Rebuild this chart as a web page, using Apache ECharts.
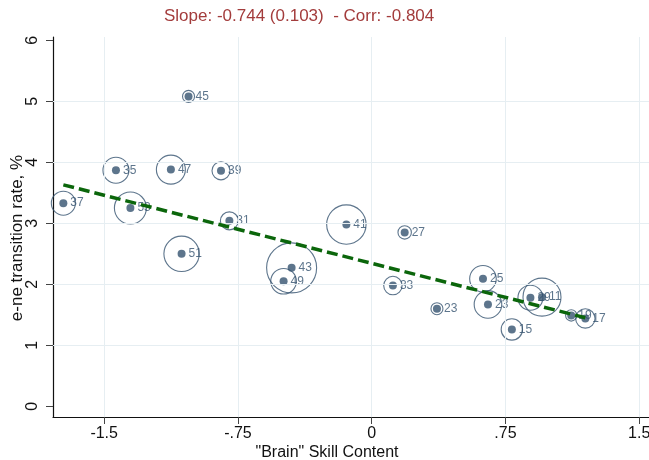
<!DOCTYPE html>
<html>
<head>
<meta charset="utf-8">
<title>e-ne transition rate vs brain skill content</title>
<script src="https://cdn.jsdelivr.net/npm/echarts@6/dist/echarts.min.js"></script>
<style>
  html, body { margin: 0; padding: 0; background: #ffffff; }
  #chart { width: 649px; height: 460px; }
</style>
</head>
<body>
<div id="chart"></div>
<script>
// Occupation codes, brain skill content (x), e-ne transition rate in % (y)
// and the employment weight that sets each bubble's area.
const occupations = ['37', '35', '47', '39', '53', '31', '51', '45', '41', '27', '43',
                     '49', '33', '23', '25', '23', '15', '29', '11', '19', '17'];
const skillContent = [-1.729, -1.434, -1.126, -0.845, -1.353, -0.798, -1.066, -1.027, -0.142, 0.185, -0.449,
                      -0.494, 0.119, 0.366, 0.624, 0.652, 0.786, 0.890, 0.955, 1.119, 1.198];
const transitionRate = [3.33, 3.87, 3.88, 3.86, 3.25, 3.04, 2.50, 5.08, 2.98, 2.85, 2.27,
                        2.05, 1.98, 1.60, 2.09, 1.67, 1.26, 1.78, 1.79, 1.49, 1.44];
const weights = [144, 169, 210, 81, 256, 81, 313, 36, 388, 45, 625,
                 164, 85, 36, 177, 190, 114, 156, 361, 32, 94];

// Weighted linear fit reported in the header
const fitSlope = -0.744;
const fitSlopeSE = 0.103;
const fitIntercept = 2.344;
const correlation = -0.804;

// Axis ticks and their printed labels
const xTicks = [-1.5, -0.75, 0, 0.75, 1.5];
const xTickLabels = ['-1.5', '-.75', '0', '.75', '1.5'];
const yTicks = [0, 1, 2, 3, 4, 5, 6];
const yGridLines = [1, 2, 3, 4, 5];

const navy = '#34536f';
const font = '"Liberation Sans", Arial, Helvetica, sans-serif';

const points = skillContent.map((x, i) => ({ name: occupations[i], value: [x, transitionRate[i], weights[i]] }));
const xLo = Math.min(...skillContent);
const xHi = Math.max(...skillContent);
const fitLine = [[xLo, fitIntercept + fitSlope * xLo], [xHi, fitIntercept + fitSlope * xHi]];

const chart = echarts.init(document.getElementById('chart'), null, { renderer: 'canvas' });
chart.setOption({
  animation: false,
  backgroundColor: '#ffffff',
  textStyle: { fontFamily: font },
  graphic: [{
    type: 'text',
    left: 164,
    top: 8,
    style: {
      text: 'Slope: ' + fitSlope.toFixed(3) + ' (' + fitSlopeSE.toFixed(3) + ')  - Corr: ' + correlation.toFixed(3),
      fill: '#a33c3c',
      font: '17px ' + font
    }
  }],
  grid: { left: 53, right: 0, top: 37, bottom: 43, containLabel: false, outerBoundsMode: 'none' },
  xAxis: {
    type: 'value',
    min: -1.787,
    max: 1.555,
    name: '"Brain" Skill Content',
    nameLocation: 'middle',
    nameGap: 28,
    nameMoveOverlap: false,
    nameTextStyle: { color: '#111', fontSize: 16, fontFamily: font, padding: [0, 48, 0, 0] },
    axisLine: { show: true, onZero: false, lineStyle: { color: '#111', width: 1.2 } },
    axisTick: { show: true, length: 7, customValues: xTicks, lineStyle: { color: '#444' } },
    axisLabel: {
      show: true, margin: 9, customValues: xTicks, color: '#111', fontSize: 16, fontFamily: font,
      formatter: v => { const k = xTicks.findIndex(t => Math.abs(t - v) < 1e-6); return k >= 0 ? xTickLabels[k] : ''; }
    },
    splitLine: { show: false }
  },
  yAxis: {
    type: 'value',
    min: -0.175,
    max: 6.054,
    name: 'e-ne transition rate, %',
    nameLocation: 'middle',
    nameGap: 27,
    nameRotate: 90,
    nameMoveOverlap: false,
    nameTextStyle: { color: '#111', fontSize: 17, fontFamily: font, padding: [0, 22, 0, 0] },
    axisLine: { show: true, onZero: false, lineStyle: { color: '#111', width: 1.2 } },
    axisTick: { show: true, length: 7, customValues: yTicks, lineStyle: { color: '#444' } },
    axisLabel: { show: true, margin: 12, rotate: 90, customValues: yTicks, color: '#111', fontSize: 16, fontFamily: font },
    splitLine: { show: false }
  },
  series: [
    {
      // light reference grid
      type: 'line',
      data: [],
      silent: true,
      markLine: {
        silent: true,
        symbol: ['none', 'none'],
        label: { show: false },
        lineStyle: { color: '#e6eef2', width: 1, type: 'solid' },
        data: xTicks.map(v => ({ xAxis: v })).concat(yGridLines.map(v => ({ yAxis: v })))
      }
    },
    {
      // weight bubbles
      type: 'scatter',
      silent: true,
      data: points,
      symbol: 'circle',
      symbolSize: d => 2 * Math.sqrt(d[2]),
      itemStyle: { color: 'rgba(0,0,0,0)', borderColor: navy, borderWidth: 1.1 },
      z: 3
    },
    {
      // occupation markers with code labels
      type: 'scatter',
      silent: true,
      data: points,
      symbol: 'circle',
      symbolSize: 8,
      itemStyle: { color: navy },
      label: {
        show: true, position: 'right', distance: 3, formatter: p => p.name,
        color: navy, fontSize: 12, fontFamily: font
      },
      labelLayout: { hideOverlap: false },
      z: 4
    },
    {
      // fitted line
      type: 'line',
      silent: true,
      data: fitLine,
      showSymbol: false,
      symbol: 'none',
      lineStyle: { color: '#0b660b', width: 3.5, type: [11, 5] },
      z: 5
    }
  ]
});
</script>
</body>
</html>
